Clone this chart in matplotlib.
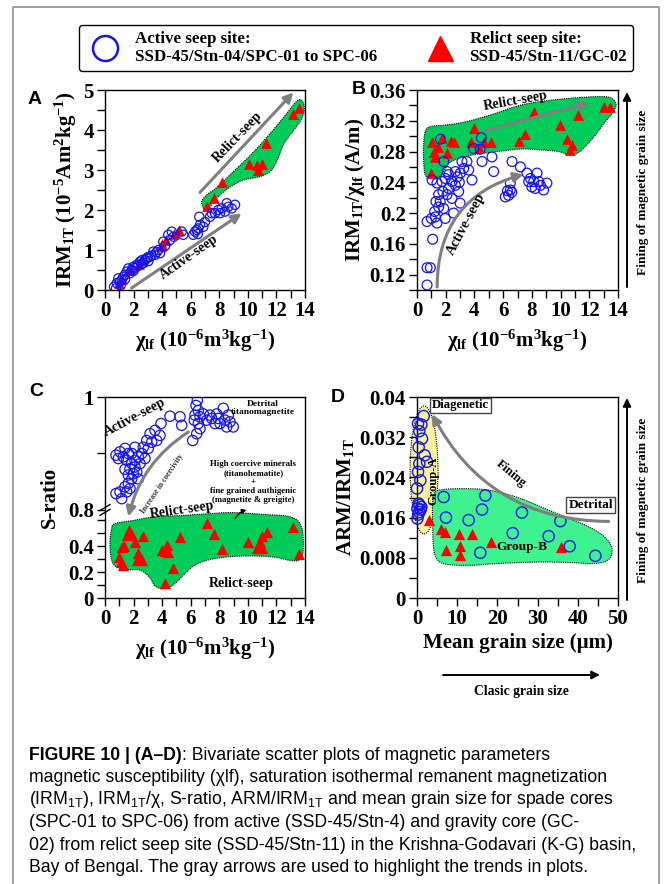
import numpy as np
import matplotlib
matplotlib.use('Agg')
import matplotlib.pyplot as plt
from matplotlib.patches import Polygon, Ellipse
from matplotlib.lines import Line2D
from matplotlib.ticker import MultipleLocator, FixedLocator, FuncFormatter

plt.rcParams['font.family'] = ['Liberation Serif', 'DejaVu Serif']
plt.rcParams['font.weight'] = 'bold'
plt.rcParams['axes.labelweight'] = 'bold'
plt.rcParams['mathtext.default'] = 'regular'

# ---- data ----
# (A) chi_lf vs IRM1T
A_act_x = [0.63, 0.77, 0.82, 0.93, 1.05, 1.17, 1.28, 1.40, 1.52, 1.63, 1.75, 1.87, 1.98, 2.10, 2.22, 2.33,
           2.45, 2.57, 2.68, 2.80, 2.92, 3.03, 3.15, 3.27, 3.38, 3.50, 3.62, 3.73, 3.85, 4.08, 4.20, 4.43,
           4.55, 4.67, 4.80, 5.37, 5.48, 6.18, 6.30, 6.42, 6.53, 6.65, 6.60, 6.88, 7.00, 7.35, 7.47, 7.70,
           7.93, 8.05, 8.17, 8.40, 8.52, 8.63, 8.87, 9.10, 1.10, 1.40, 2.00, 2.60, 3.00, 6.50]
A_act_y = [0.08, 0.04, 0.17, 0.29, 0.21, 0.25, 0.33, 0.38, 0.46, 0.54, 0.42, 0.50, 0.58, 0.55, 0.63, 0.60,
           0.71, 0.66, 0.67, 0.75, 0.79, 0.72, 0.83, 0.86, 0.96, 0.88, 0.95, 1.00, 0.92, 1.21, 1.10, 1.38,
           1.25, 1.46, 1.33, 1.46, 1.38, 1.38, 1.46, 1.50, 1.54, 1.63, 1.83, 1.58, 1.70, 1.83, 1.92, 1.92,
           2.00, 1.92, 2.04, 1.96, 2.17, 2.08, 2.04, 2.13, 0.12, 0.27, 0.48, 0.75, 0.82, 1.40]
A_rel_x = [13.58, 13.14, 11.27, 10.08, 10.66, 11.00, 10.69, 8.21, 7.63, 7.16, 5.20, 4.83, 4.01, 3.95,
           2.57, 2.35, 1.20, 0.95, 1.75, 4.30]
A_rel_y = [4.56, 4.40, 3.67, 3.15, 3.12, 3.14, 3.00, 2.71, 2.29, 2.11, 1.50, 1.40, 1.14, 1.10,
           0.75, 0.66, 0.28, 0.18, 0.50, 1.25]

# (B) chi_lf vs IRM1T/chi_lf
B_act_x = [0.70, 0.70, 0.93, 1.09, 0.70, 1.00, 1.28, 1.39, 1.97, 2.55, 1.23, 1.51, 1.32, 1.62, 1.86, 2.44,
           2.90, 2.67, 1.51, 2.09, 1.05, 1.39, 1.74, 1.97, 2.21, 2.44, 2.67, 3.02, 3.25, 3.48, 3.13, 2.80,
           3.83, 3.60, 4.53, 5.34, 5.22, 3.95, 4.48, 1.63, 1.86, 2.10, 6.62, 7.20, 6.50, 6.15, 6.38, 6.50,
           6.60, 6.30, 7.66, 7.90, 7.78, 8.13, 8.36, 8.48, 8.24, 8.82, 9.05, 8.60, 8.00, 4.40, 2.95, 3.00,
           2.20, 1.80]
B_act_y = [0.1065, 0.129, 0.129, 0.166, 0.189, 0.193, 0.195, 0.187, 0.193, 0.200, 0.202, 0.208, 0.215,
           0.215, 0.206, 0.219, 0.228, 0.236, 0.224, 0.224, 0.243, 0.239, 0.241, 0.245, 0.250, 0.241,
           0.254, 0.252, 0.258, 0.267, 0.267, 0.247, 0.243, 0.256, 0.267, 0.254, 0.273, 0.284, 0.298,
           0.296, 0.267, 0.254, 0.267, 0.260, 0.239, 0.221, 0.223, 0.230, 0.227, 0.229, 0.252, 0.245,
           0.241, 0.241, 0.252, 0.241, 0.232, 0.230, 0.239, 0.236, 0.234, 0.283, 0.240, 0.213, 0.232, 0.228]
B_rel_x = [13.00, 13.47, 11.19, 9.98, 8.13, 7.50, 7.08, 10.45, 10.80, 10.68, 3.95, 3.79, 4.29, 5.15,
           4.64, 2.39, 2.55, 2.09, 1.04, 1.16, 1.28, 1.00, 1.74, 1.45]
B_rel_y = [0.338, 0.338, 0.327, 0.315, 0.331, 0.303, 0.294, 0.296, 0.289, 0.282, 0.310, 0.293, 0.284,
           0.293, 0.293, 0.294, 0.293, 0.278, 0.293, 0.280, 0.273, 0.252, 0.297, 0.286]

# (C) chi_lf vs S-ratio (broken y axis)
C_act_x = [6.46, 6.37, 6.53, 6.30, 6.65, 6.88, 6.25, 6.53, 6.65, 6.42, 6.14, 8.28, 7.82, 7.47, 7.12, 7.93,
           8.05, 8.40, 8.63, 8.75, 8.98, 8.52, 7.70, 7.35, 4.55, 3.92, 5.37, 5.25, 3.50, 3.15, 3.85, 3.62,
           3.27, 2.92, 2.68, 3.03, 2.57, 2.33, 2.10, 1.87, 1.63, 1.40, 1.05, 0.77, 0.93, 1.28, 1.52, 1.75,
           1.98, 1.87, 1.63, 1.40, 1.05, 0.77, 1.17, 1.52, 1.75, 2.10, 2.22, 2.45, 2.80, 2.10, 1.87, 2.33,
           1.40, 1.63]
C_act_y = [0.994, 0.985, 0.976, 0.968, 0.965, 0.970, 0.959, 0.953, 0.944, 0.935, 0.923, 0.980, 0.970,
           0.962, 0.959, 0.962, 0.953, 0.959, 0.968, 0.956, 0.947, 0.947, 0.953, 0.968, 0.966, 0.953,
           0.950, 0.965, 0.941, 0.935, 0.932, 0.923, 0.920, 0.923, 0.911, 0.909, 0.900, 0.894, 0.888,
           0.882, 0.900, 0.909, 0.903, 0.897, 0.891, 0.894, 0.888, 0.873, 0.864, 0.855, 0.847, 0.841,
           0.832, 0.829, 0.820, 0.832, 0.838, 0.876, 0.867, 0.882, 0.891, 0.911, 0.900, 0.855, 0.872, 0.862]
C_rel_x = [1.70, 1.52, 1.87, 2.64, 2.10, 1.33, 1.17, 1.00, 1.10, 1.24, 2.33, 2.22, 2.57, 5.25, 4.32, 3.97,
           4.20, 4.43, 4.78, 4.20, 7.16, 7.63, 8.21, 10.03, 10.85, 11.32, 10.97, 10.62, 10.97, 13.14, 13.58]
C_rel_y = [0.526, 0.488, 0.488, 0.483, 0.436, 0.405, 0.397, 0.320, 0.281, 0.255, 0.346, 0.294, 0.294,
           0.475, 0.410, 0.372, 0.364, 0.359, 0.230, 0.119, 0.578, 0.493, 0.379, 0.431, 0.436, 0.514,
           0.483, 0.385, 0.385, 0.552, 0.338]

# (D) mean grain size vs ARM/IRM1T
D_act_x = [1.66, 1.08, 0.25, 0.58, 1.24, 0.41, 1.90, 0.58, 2.49, 0.25, 0.83, 0.00, 0.41, 1.08, 0.10, 0.58,
           0.10, 0.60, 0.90, 0.30, 6.63, 17.0, 7.21, 16.17, 12.85, 26.1, 35.66, 23.8, 32.75, 15.75, 37.98,
           44.36]
D_act_y = [0.0362, 0.0345, 0.0347, 0.0332, 0.0317, 0.0300, 0.0284, 0.0267, 0.0271, 0.0251, 0.0234,
           0.0218, 0.0188, 0.0181, 0.0178, 0.0171, 0.0158, 0.0185, 0.0176, 0.0166, 0.0201, 0.0204, 0.0160,
           0.0176, 0.0155, 0.0170, 0.0153, 0.0129, 0.0123, 0.0090, 0.0103, 0.0084]
D_rel_x = [2.9, 6.0, 7.0, 10.5, 13.6, 7.2, 10.6, 10.8, 18.3, 35.7]
D_rel_y = [0.0156, 0.0138, 0.0131, 0.0128, 0.0128, 0.0095, 0.0103, 0.0086, 0.0111, 0.0101]

# ---- hand drawn envelopes (axes fraction) ----
blobA = [(0.492, 0.408), (0.483, 0.442), (0.508, 0.475), (0.558, 0.512), (0.642, 0.592), (0.725, 0.672),
         (0.808, 0.762), (0.892, 0.862), (0.95, 0.935), (0.975, 0.952), (0.992, 0.935), (0.995, 0.892),
         (0.975, 0.842), (0.925, 0.775), (0.892, 0.725), (0.858, 0.642), (0.825, 0.592), (0.775, 0.567),
         (0.692, 0.55), (0.642, 0.525), (0.592, 0.49), (0.55, 0.45), (0.525, 0.417), (0.5, 0.395)]
blobB = [(0.041, 0.792), (0.066, 0.817), (0.141, 0.825), (0.224, 0.837), (0.307, 0.858), (0.390, 0.883),
         (0.473, 0.912), (0.556, 0.933), (0.672, 0.95), (0.804, 0.962), (0.904, 0.967), (0.962, 0.962),
         (0.990, 0.933), (0.978, 0.892), (0.937, 0.842), (0.887, 0.775), (0.837, 0.717), (0.796, 0.683),
         (0.755, 0.675), (0.705, 0.692), (0.622, 0.70), (0.522, 0.705), (0.423, 0.695), (0.357, 0.687),
         (0.274, 0.675), (0.207, 0.658), (0.158, 0.633), (0.133, 0.592), (0.108, 0.567), (0.066, 0.562),
         (0.041, 0.575), (0.033, 0.642), (0.033, 0.725)]
blobC = [(0.05, 0.37), (0.142, 0.386), (0.242, 0.403), (0.392, 0.411), (0.525, 0.42), (0.642, 0.425),
         (0.808, 0.415), (0.908, 0.408), (0.962, 0.386), (0.985, 0.345), (0.992, 0.279), (0.988, 0.212),
         (0.967, 0.187), (0.925, 0.187), (0.842, 0.204), (0.725, 0.209), (0.608, 0.204), (0.508, 0.187),
         (0.442, 0.159), (0.392, 0.113), (0.342, 0.066), (0.292, 0.046), (0.25, 0.06), (0.222, 0.104),
         (0.175, 0.138), (0.108, 0.141), (0.05, 0.159), (0.03, 0.204), (0.025, 0.279), (0.033, 0.345)]
blobD = [(0.091, 0.527), (0.141, 0.541), (0.240, 0.544), (0.340, 0.539), (0.439, 0.519), (0.539, 0.486),
         (0.638, 0.444), (0.738, 0.403), (0.837, 0.362), (0.920, 0.315), (0.965, 0.262), (0.967, 0.212),
         (0.937, 0.182), (0.871, 0.171), (0.771, 0.176), (0.638, 0.179), (0.506, 0.176), (0.390, 0.171),
         (0.274, 0.163), (0.158, 0.166), (0.104, 0.187), (0.083, 0.245), (0.078, 0.362), (0.078, 0.478)]

BLUE = '#1414f0'
GREEN = '#00cc5a'
GRAY = '#7f7f7f'
W, H = 665, 884


def smooth_closed(pts, n=14):
    p = np.asarray(pts, float)
    m = len(p)
    t = np.linspace(0, 1, n, endpoint=False)[:, None]
    out = []
    for i in range(m):
        p0, p1, p2, p3 = p[i - 1], p[i], p[(i + 1) % m], p[(i + 2) % m]
        out.append(0.5 * (2 * p1 + (-p0 + p2) * t + (2 * p0 - 5 * p1 + 4 * p2 - p3) * t ** 2
                          + (-p0 + 3 * p1 - 3 * p2 + p3) * t ** 3))
    return np.vstack(out)


def blob(ax, pts, color):
    ax.add_patch(Polygon(smooth_closed(pts), closed=True, transform=ax.transAxes, fc=color,
                         ec='k', ls=(0, (1, 1)), lw=0.8, zorder=1, clip_on=False))


def rect(l, t, r, b):
    return [l / W, 1 - b / H, (r - l) / W, (b - t) / H]


def style(ax):
    for s in ax.spines.values():
        s.set_linewidth(1.0)
    ax.tick_params(which='both', direction='out', length=6, width=1.0, labelsize=15, pad=2)


def arrow(ax, start, end, rad=0.0, color=GRAY, lw=2.2, ms=14):
    ax.annotate('', xy=end, xytext=start, xycoords='axes fraction', textcoords='axes fraction',
                arrowprops=dict(arrowstyle='-|>', color=color, lw=lw, mutation_scale=ms,
                                shrinkA=0, shrinkB=0, connectionstyle='arc3,rad=%s' % rad),
                zorder=5)


def note(ax, x, y, s, size=10, rot=0, **kw):
    ax.text(x, y, s, transform=ax.transAxes, fontsize=size, rotation=rot,
            ha='center', va='center', rotation_mode='anchor', zorder=6, **kw)


fmt = FuncFormatter(lambda v, p: '%g' % v)
fig = plt.figure(figsize=(W / 100, H / 100), dpi=100)

ov = fig.add_axes([0, 0, 1, 1])
ov.set_xlim(0, W)
ov.set_ylim(H, 0)
ov.axis('off')

xlab = 'χ$_{lf}$ (10$^{-6}$m$^{3}$kg$^{-1}$)'

# ---- A ----
axA = fig.add_axes(rect(105, 90, 305, 290))
blob(axA, blobA, GREEN)
axA.scatter(A_rel_x, A_rel_y, marker='^', s=60, color='red', lw=0, zorder=3)
axA.scatter(A_act_x, A_act_y, s=44, facecolors='none', edgecolors=BLUE, linewidths=0.9, zorder=4)
axA.set_xlim(0, 14)
axA.set_ylim(0, 5)
axA.xaxis.set_major_locator(MultipleLocator(2))
axA.xaxis.set_minor_locator(MultipleLocator(1))
axA.yaxis.set_major_locator(MultipleLocator(1))
axA.yaxis.set_minor_locator(MultipleLocator(0.5))
axA.set_xlabel(xlab, fontsize=15, labelpad=5)
axA.set_ylabel('IRM$_{1T}$ (10$^{-5}$Am$^{2}$kg$^{-1}$)', fontsize=15, labelpad=3)
style(axA)
arrow(axA, (0.475, 0.488), (0.942, 0.988))
arrow(axA, (0.133, 0.01), (0.683, 0.383))
note(axA, 0.665, 0.765, 'Relict-seep', 10, 46)
note(axA, 0.42, 0.165, 'Active-seep', 10, 35)

# ---- B ----
axB = fig.add_axes(rect(417, 90, 618, 290))
blob(axB, blobB, GREEN)
axB.scatter(B_rel_x, B_rel_y, marker='^', s=60, color='red', lw=0, zorder=3)
axB.scatter(B_act_x, B_act_y, s=50, facecolors='none', edgecolors=BLUE, linewidths=0.9, zorder=4)
axB.set_xlim(0, 14)
axB.set_ylim(0.10, 0.36)
axB.xaxis.set_major_locator(MultipleLocator(2))
axB.xaxis.set_minor_locator(MultipleLocator(1))
axB.yaxis.set_major_locator(MultipleLocator(0.04))
axB.yaxis.set_minor_locator(MultipleLocator(0.02))
axB.yaxis.set_major_formatter(fmt)
axB.set_xlabel(xlab, fontsize=15, labelpad=5)
axB.set_ylabel('IRM$_{1T}$/χ$_{lf}$ (A/m)', fontsize=15, labelpad=2)
style(axB)
arrow(axB, (0.332, 0.795), (0.854, 0.935))
arrow(axB, (0.10, 0.015), (0.53, 0.578), rad=-0.38)
note(axB, 0.49, 0.945, 'Relict-seep', 10, 10)
note(axB, 0.245, 0.33, 'Active-seep', 10, 62)

# ---- C (broken S-ratio axis) ----
LO, HI, K2, EPS = 0.68, 0.8, 4.37, 0.01


def c_fwd(v):
    v = np.asarray(v, float)
    return np.where(v <= LO, v, np.where(v <= HI, LO + (v - LO) * EPS, LO + (HI - LO) * EPS + (v - HI) * K2))


def c_inv(u):
    u = np.asarray(u, float)
    b = LO + (HI - LO) * EPS
    return np.where(u <= LO, u, np.where(u <= b, LO + (u - LO) / EPS, HI + (u - b) / K2))


axC = fig.add_axes(rect(105, 397, 305, 598))
axC.set_yscale('function', functions=(c_fwd, c_inv))
blob(axC, blobC, GREEN)
axC.scatter(C_rel_x, C_rel_y, marker='^', s=65, color='red', lw=0, zorder=3)
axC.scatter(C_act_x, C_act_y, s=55, facecolors='none', edgecolors=BLUE, linewidths=0.9, zorder=4)
axC.set_xlim(0, 14)
axC.set_ylim(0, 1)
axC.xaxis.set_major_locator(MultipleLocator(2))
axC.xaxis.set_minor_locator(MultipleLocator(1))
axC.yaxis.set_major_locator(FixedLocator([0, 0.2, 0.4, 0.8, 1.0]))
axC.yaxis.set_minor_locator(FixedLocator([0.1, 0.3, 0.5, 0.6, 0.9]))
axC.yaxis.set_major_formatter(fmt)
axC.yaxis.set_minor_formatter(FuncFormatter(lambda v, p: ''))
axC.set_xlabel(xlab, fontsize=15, labelpad=5)
axC.set_ylabel('S-ratio', fontsize=15, labelpad=6)
style(axC)
fb = float(c_fwd(HI) / c_fwd(1.0))
for dy in (-0.012, 0.012):
    axC.plot([-0.025, 0.025], [fb + dy - 0.015, fb + dy + 0.015], transform=axC.transAxes,
             color='k', lw=1.0, clip_on=False, zorder=7)
arrow(axC, (0.417, 0.826), (0.117, 0.405), rad=0.2)
arrow(axC, (0.65, 0.395), (0.708, 0.438), rad=-0.2, color='k', lw=0.9, ms=7)
note(axC, 0.15, 0.9, 'Active-seep', 10, 28)
note(axC, 0.383, 0.438, 'Relict-seep', 10, 8)
note(axC, 0.68, 0.072, 'Relict-seep', 10, 0)
note(axC, 0.285, 0.57, 'Increase in coercivity', 5.6, 56, color='#333333')
note(axC, 0.79, 0.945, 'Detrital\ntitanomagnetite', 6.8, 0, linespacing=1.1)
note(axC, 0.742, 0.577, 'High coercive minerals\n(titanohematite)\n+\nfine grained authigenic\n'
     '(magnetite & greigite)', 6.3, 0, linespacing=1.15)

# ---- D ----
axD = fig.add_axes(rect(417, 397, 618, 598))
axD.add_patch(Ellipse((0.035, 0.637), 0.139, 0.637, transform=axD.transAxes, fc='#f8f29a', ec='k',
                      ls=(0, (1, 1)), lw=0.8, clip_on=False, zorder=1))
blob(axD, blobD, '#3df28f')
axD.scatter(D_rel_x, D_rel_y, marker='^', s=65, color='red', lw=0, zorder=3)
axD.scatter(D_act_x, D_act_y, s=65, facecolors='none', edgecolors=BLUE, linewidths=1.0, zorder=4,
            clip_on=False)
axD.set_xlim(0, 50)
axD.set_ylim(0, 0.04)
axD.xaxis.set_major_locator(MultipleLocator(10))
axD.xaxis.set_minor_locator(MultipleLocator(5))
axD.yaxis.set_major_locator(MultipleLocator(0.008))
axD.yaxis.set_minor_locator(MultipleLocator(0.004))
axD.yaxis.set_major_formatter(fmt)
axD.set_xlabel('Mean grain size (µm)', fontsize=15, labelpad=3)
axD.set_ylabel('ARM/IRM$_{1T}$', fontsize=15, labelpad=2)
style(axD)
arrow(axD, (0.954, 0.381), (0.075, 0.915), rad=-0.3)
box = dict(boxstyle='square,pad=0.15', fc='white', ec='#444444', lw=1.0)
note(axD, 0.216, 0.958, 'Diagenetic', 9.2, 0, bbox=box)
note(axD, 0.864, 0.464, 'Detrital', 9.6, 0, bbox=box)
note(axD, 0.47, 0.62, 'Fining', 9.2, -40)
note(axD, 0.52, 0.254, 'Group-B', 9.6, 0)
note(axD, 0.08, 0.585, 'Group-A', 9.0, 90)

# ---- legend ----
h1 = Line2D([], [], marker='o', ms=18, mfc='none', mec=BLUE, mew=1.8, ls='none')
h2 = Line2D([], [], marker='^', ms=18, mfc='red', mec='red', ls='none')
leg = fig.legend([h1, h2], ['Active seep site:\nSSD-45/Stn-04/SPC-01 to SPC-06',
                            'Relict seep site:\nSSD-45/Stn-11/GC-02'],
                 loc='upper left', bbox_to_anchor=(79 / W, 1 - 25 / H), ncol=2, borderaxespad=0,
                 prop={'family': 'Liberation Serif', 'weight': 'bold', 'size': 12.2},
                 borderpad=0.35, handlelength=2.4, handletextpad=0.55, columnspacing=2.5,
                 frameon=True, fancybox=True, edgecolor='k', framealpha=1)
leg.get_frame().set_linewidth(1.0)

# ---- figure decorations ----
ov.plot([13, 13, 659, 659], [H, 7, 7, H], color='#9a9a9a', lw=1.3)
for s, x, y in [('A', 35, 99), ('B', 359, 89), ('C', 36, 391), ('D', 338, 397)]:
    ov.text(x, y, s, fontsize=14, family='Liberation Sans', weight='bold', ha='center', va='center')

fine = 'Fining of magnetic grain size'
for y0, y1, yt in [(287, 92, 192), (600, 398, 500)]:
    ov.annotate('', xy=(627, y1), xytext=(627, y0),
                arrowprops=dict(arrowstyle='-|>', color='k', lw=1.4, mutation_scale=12,
                                shrinkA=0, shrinkB=0))
    ov.text(643, yt, fine, rotation=90, fontsize=9.6, ha='center', va='center')
ov.annotate('', xy=(600, 675), xytext=(443, 675),
            arrowprops=dict(arrowstyle='-|>', color='k', lw=1.4, mutation_scale=12, shrinkA=0, shrinkB=0))
ov.text(521, 691, 'Clasic grain size', fontsize=9.8, ha='center', va='center')

# ---- caption ----
cap = dict(family='Liberation Sans', fontsize=12.7, va='center', ha='left')
lines = ['magnetic susceptibility (χlf), saturation isothermal remanent magnetization',
         '(IRM$_{1T}$), IRM$_{1T}$/χ, S-ratio, ARM/IRM$_{1T}$ and mean grain size for spade cores',
         '(SPC-01 to SPC-06) from active (SSD-45/Stn-4) and gravity core (GC-',
         '02) from relict seep site (SSD-45/Stn-11) in the Krishna-Godavari (K-G) basin,',
         'Bay of Bengal. The gray arrows are used to highlight the trends in plots.']
y_cap = 755
t0 = ov.text(29, y_cap, 'FIGURE 10 | (A\u2013D)', weight='bold', **cap)
r = fig.canvas.get_renderer()
bb = t0.get_window_extent(renderer=r)
ov.text(bb.x1, y_cap, ': Bivariate scatter plots of magnetic parameters', weight='normal', **cap)
for i, s in enumerate(lines):
    ov.text(29, y_cap + 22.5 * (i + 1), s, weight='normal', **cap)

fig.savefig('out.png', dpi=100)
